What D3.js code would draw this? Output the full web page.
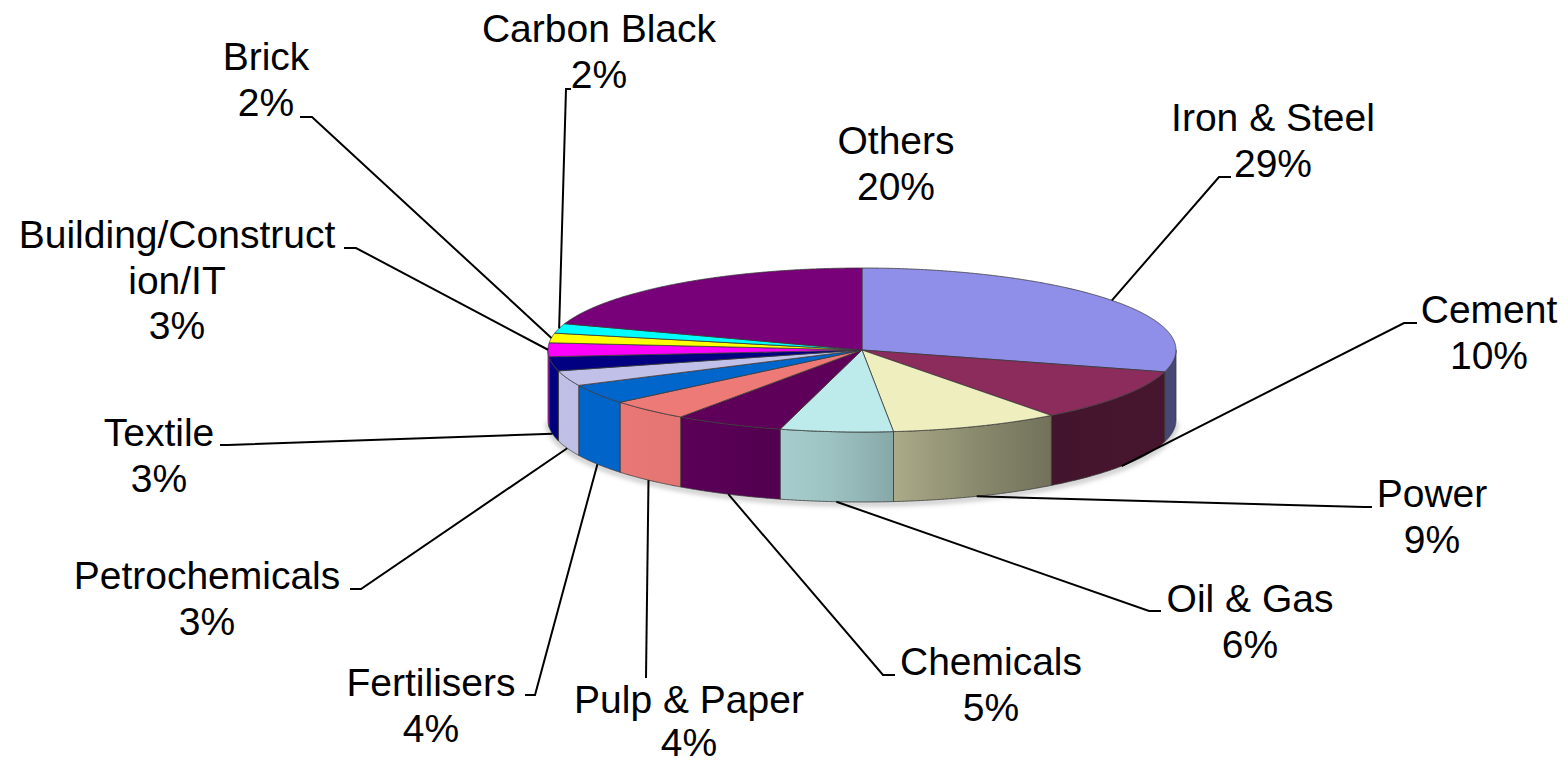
<!DOCTYPE html>
<html>
<head>
<meta charset="utf-8">
<script src="https://cdn.jsdelivr.net/npm/d3@7/dist/d3.min.js"></script>
<style>
  html, body { margin: 0; padding: 0; background: #ffffff; }
  svg { display: block; }
  text { font-family: "Liberation Sans", Arial, "DejaVu Sans", sans-serif; }
</style>
</head>
<body>
<svg id="chart" width="1568" height="766"></svg>
<script>
// ---- data ----
const categories = ["Iron & Steel", "Cement", "Power", "Oil & Gas", "Chemicals", "Pulp & Paper",
  "Fertilisers", "Petrochemicals", "Textile", "Building/Construction/IT", "Brick", "Carbon Black", "Others"];
const values = [29.3, 10.4, 8.7, 5.8, 5.6, 4.2, 3.9, 3.0, 2.8, 2.7, 1.9, 1.9, 19.8];
const pctLabels = ["29%", "10%", "9%", "6%", "5%", "4%", "4%", "3%", "3%", "3%", "2%", "2%", "20%"];
const nameLines = [["Iron & Steel"], ["Cement"], ["Power"], ["Oil & Gas"], ["Chemicals"], ["Pulp & Paper"],
  ["Fertilisers"], ["Petrochemicals"], ["Textile"], ["Building/Construct", "ion/IT"], ["Brick"], ["Carbon Black"], ["Others"]];
const colors = ["#8f8fea", "#8c2c5c", "#eeeebe", "#bdeaea", "#5e005a", "#ee7a78",
  "#0066cc", "#c0c0e8", "#000080", "#ff00ff", "#ffff00", "#00ffff", "#780078"];

// ---- layout (positions, not data) ----
const cx = 862, cy = 350, rx = 314, ry = 82, depth = 70;
const fontSize = 39, lineH = 45.5;
// label centre x, first baseline y, line gap, leader elbow & end (null = no leader)
const labelLayout = [
  { x: 1273, y: 131, elbow: [1219, 177], end: [1231, 177] },
  { x: 1489, y: 323, elbow: [1404, 323], end: [1417, 323] },
  { x: 1432, y: 507, elbow: [1364, 507], end: [1372, 507] },
  { x: 1250, y: 612, elbow: [1149, 611], end: [1161, 611] },
  { x: 991,  y: 675, elbow: [883, 675],  end: [895, 675] },
  { x: 689,  y: 713, gap: 43, elbow: [646, 678],  end: [646, 678] },
  { x: 431,  y: 696, elbow: [535, 695],  end: [525, 695] },
  { x: 207,  y: 589, elbow: [361, 589],  end: [350, 589] },
  { x: 159,  y: 446, elbow: [228, 445],  end: [220, 445] },
  { x: 177,  y: 248, elbow: [356, 248],  end: [344, 248] },
  { x: 266,  y: 70,  elbow: [312, 117],  end: [300, 117] },
  { x: 599,  y: 42,  elbow: [566, 89],   end: [571, 89] },
  { x: 896,  y: 154, elbow: null, end: null }
];

const svg = d3.select("#chart");
const defs = svg.append("defs");

const xs = d3.scaleLinear().domain([-1, 1]).range([cx - rx, cx + rx]);
const ys = d3.scaleLinear().domain([-1, 1]).range([cy - ry, cy + ry]);
const pt = (a, dy = 0) => [xs(Math.sin(a)), ys(-Math.cos(a)) + dy];

const pie = d3.pie().sort(null).value(d => d.v);
const arcs = pie(values.map((v, i) => ({ v, i })));

// side shading multipliers across the pie width (light from the left)
const shadeStops = [[0, 1.0], [0.25, 0.95], [0.45, 0.83], [0.55, 0.72], [0.68, 0.58], [0.8, 0.48], [1, 0.5]];
arcs.forEach((a, i) => {
  const base = d3.rgb(colors[i]);
  const g = defs.append("linearGradient").attr("id", "side" + i)
    .attr("gradientUnits", "userSpaceOnUse")
    .attr("x1", cx - rx).attr("x2", cx + rx).attr("y1", 0).attr("y2", 0);
  shadeStops.forEach(([o, m]) => {
    g.append("stop").attr("offset", o)
      .attr("stop-color", d3.rgb(base.r * m, base.g * m, base.b * m).formatHex());
  });
});

// soft shadow under the pie
const blur = defs.append("filter").attr("id", "soft").attr("x", "-10%").attr("y", "-50%").attr("width", "120%").attr("height", "200%");
blur.append("feGaussianBlur").attr("stdDeviation", 2.5);

const line = d3.line();
const step = Math.PI / 720;

function arcPoints(a0, a1, dy) {
  const pts = [];
  const n = Math.max(2, Math.ceil((a1 - a0) / step));
  for (let k = 0; k <= n; k++) pts.push(pt(a0 + (a1 - a0) * k / n, dy));
  return pts;
}

// shadow of the front bottom edge
svg.append("path")
  .attr("d", line(arcPoints(Math.PI / 2, 3 * Math.PI / 2, depth + 2)))
  .attr("fill", "none").attr("stroke", "#bbbbbb").attr("stroke-width", 4)
  .attr("filter", "url(#soft)");

// sides (front half only)
const gSide = svg.append("g");
arcs.forEach((a, i) => {
  const s = Math.max(a.startAngle, Math.PI / 2);
  const e = Math.min(a.endAngle, 3 * Math.PI / 2);
  if (e <= s) return;
  const top = arcPoints(s, e, 0);
  const bot = arcPoints(s, e, depth).reverse();
  gSide.append("path")
    .attr("d", line(top.concat(bot)) + "Z")
    .attr("fill", `url(#side${i})`)
    .attr("stroke", "#3a3a3a").attr("stroke-width", 0.8).attr("stroke-linejoin", "round");
});

// tops
const gTop = svg.append("g");
arcs.forEach((a, i) => {
  const pts = [[cx, cy]].concat(arcPoints(a.startAngle, a.endAngle, 0));
  gTop.append("path")
    .attr("d", line(pts) + "Z")
    .attr("fill", colors[i])
    .attr("stroke", "#3a3a3a").attr("stroke-width", 0.8).attr("stroke-linejoin", "round");
});

// leader lines
const gLead = svg.append("g");
arcs.forEach((a, i) => {
  const L = labelLayout[i];
  if (!L.elbow) return;
  const mid = (a.startAngle + a.endAngle) / 2;
  const front = Math.cos(mid) < 0;
  const start = pt(mid, front ? depth : 0);
  gLead.append("path")
    .attr("d", line([start, L.elbow, L.end]))
    .attr("fill", "none").attr("stroke", "#000").attr("stroke-width", 2);
});

// labels
const gLab = svg.append("g");
arcs.forEach((a, i) => {
  const L = labelLayout[i];
  const gap = L.gap || lineH;
  const lines = nameLines[i].concat([pctLabels[i]]);
  const t = gLab.append("text")
    .attr("x", L.x).attr("y", L.y)
    .attr("text-anchor", "middle")
    .attr("font-size", fontSize)
    .attr("fill", "#000");
  lines.forEach((s, k) => {
    t.append("tspan").attr("x", L.x).attr("y", L.y + k * gap).text(s);
  });
});
</script>
</body>
</html>
